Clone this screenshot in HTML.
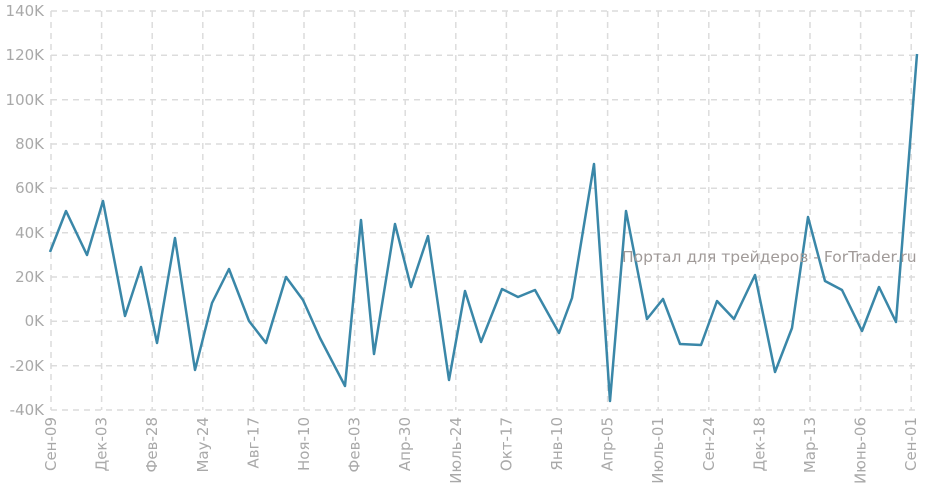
<!DOCTYPE html>
<html><head><meta charset="utf-8"><style>
html,body{margin:0;padding:0;background:#fff;}
svg text{font-family:"DejaVu Sans","Liberation Sans",sans-serif;fill:#a9a9a9;font-size:15px;}
</style></head><body>
<svg width="939" height="493" xmlns="http://www.w3.org/2000/svg">
<g stroke="#dcdcdc" stroke-width="1.5" stroke-dasharray="6,5" fill="none">
<line x1="51" y1="11" x2="920" y2="11"/><line x1="51" y1="55.3" x2="920" y2="55.3"/>
<line x1="51" y1="99.7" x2="920" y2="99.7"/><line x1="51" y1="144" x2="920" y2="144"/>
<line x1="51" y1="188.3" x2="920" y2="188.3"/><line x1="51" y1="232.7" x2="920" y2="232.7"/>
<line x1="51" y1="277" x2="920" y2="277"/><line x1="51" y1="321.3" x2="920" y2="321.3"/>
<line x1="51" y1="365.7" x2="920" y2="365.7"/><line x1="51" y1="410" x2="920" y2="410"/>
<line x1="51" y1="11" x2="51" y2="410"/><line x1="101.6" y1="11" x2="101.6" y2="410"/>
<line x1="152.2" y1="11" x2="152.2" y2="410"/><line x1="202.8" y1="11" x2="202.8" y2="410"/>
<line x1="253.4" y1="11" x2="253.4" y2="410"/><line x1="304" y1="11" x2="304" y2="410"/>
<line x1="354.6" y1="11" x2="354.6" y2="410"/><line x1="405.2" y1="11" x2="405.2" y2="410"/>
<line x1="455.8" y1="11" x2="455.8" y2="410"/><line x1="506.4" y1="11" x2="506.4" y2="410"/>
<line x1="557" y1="11" x2="557" y2="410"/><line x1="607.6" y1="11" x2="607.6" y2="410"/>
<line x1="658.2" y1="11" x2="658.2" y2="410"/><line x1="708.8" y1="11" x2="708.8" y2="410"/>
<line x1="759.4" y1="11" x2="759.4" y2="410"/><line x1="810" y1="11" x2="810" y2="410"/>
<line x1="860.6" y1="11" x2="860.6" y2="410"/><line x1="911.2" y1="11" x2="911.2" y2="410"/>
</g>
<g text-anchor="end">
<text x="44" y="16">140K</text><text x="44" y="60">120K</text><text x="44" y="105">100K</text>
<text x="44" y="149">80K</text><text x="44" y="193">60K</text><text x="44" y="238">40K</text>
<text x="44" y="282">20K</text><text x="44" y="326">0K</text><text x="44" y="371">-20K</text>
<text x="44" y="415">-40K</text>
</g>
<g text-anchor="end">
<text transform="translate(56,417) rotate(-90)">Сен-09</text>
<text transform="translate(106.6,417) rotate(-90)">Дек-03</text>
<text transform="translate(157.2,417) rotate(-90)">Фев-28</text>
<text transform="translate(207.8,417) rotate(-90)">Мау-24</text>
<text transform="translate(258.4,417) rotate(-90)">Авг-17</text>
<text transform="translate(309,417) rotate(-90)">Ноя-10</text>
<text transform="translate(359.6,417) rotate(-90)">Фев-03</text>
<text transform="translate(410.2,417) rotate(-90)">Апр-30</text>
<text transform="translate(460.8,417) rotate(-90)">Июль-24</text>
<text transform="translate(511.4,417) rotate(-90)">Окт-17</text>
<text transform="translate(562,417) rotate(-90)">Янв-10</text>
<text transform="translate(612.6,417) rotate(-90)">Апр-05</text>
<text transform="translate(663.2,417) rotate(-90)">Июль-01</text>
<text transform="translate(713.8,417) rotate(-90)">Сен-24</text>
<text transform="translate(764.4,417) rotate(-90)">Дек-18</text>
<text transform="translate(815,417) rotate(-90)">Мар-13</text>
<text transform="translate(865.6,417) rotate(-90)">Июнь-06</text>
<text transform="translate(916.2,417) rotate(-90)">Сен-01</text>
</g>
<polyline fill="none" stroke="#3a87a8" stroke-width="2.5" stroke-linejoin="round" points="50,252 66,211 87,255 103,201 125,316 141,267 157,343 175,238 195,370 212,303 229,269 249,321 266,343 286,277 303,300 320,338 345,386 361,220 374,354 395,224 411,287 428,236 449,380 465,291 481,342 502,289 518,297 535,290 559,333 572,298 594,164 610,401 626,211 647,319 663,299 680,344 701,345 717,301 734,319 755,275 775,372 792,328 808,217 825,281 842,290 862,331 879,287 896,322 917,54"/>
<text x="622" y="262" style="fill:#a09a98;font-size:15.5px">Портал для трейдеров - ForTrader.ru</text>
</svg>
</body></html>
